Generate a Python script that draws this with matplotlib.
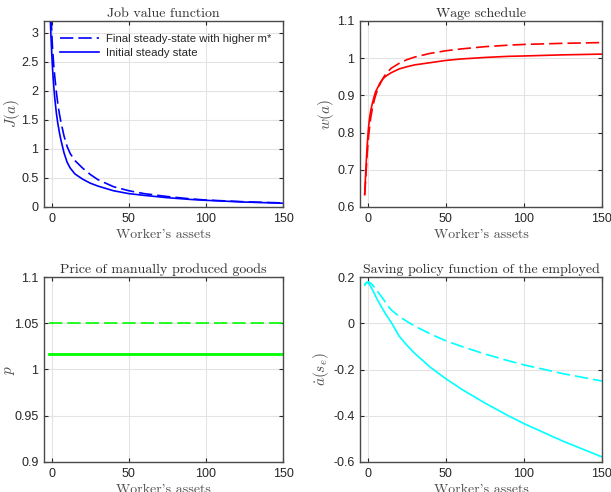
import numpy as np
import matplotlib
matplotlib.use("Agg")
import matplotlib.pyplot as plt
from matplotlib.ticker import FuncFormatter

plt.rcParams['mathtext.fontset'] = 'cm'
plt.rcParams['axes.unicode_minus'] = False

# ---------------- data ----------------
assets = [-2, -1.5, -1, -0.5, 0, 0.5, 1, 1.5, 2, 3, 4, 5, 6, 8, 10, 12, 15, 20, 25, 30,
          40, 50, 60, 75, 90, 100, 125, 150]

J_init = [4.2, 3.7, 3.3, 2.95, 2.65, 2.4, 2.2, 2.02, 1.87, 1.62, 1.43, 1.28, 1.15, 0.93, 0.77,
          0.67, 0.57, 0.48, 0.41, 0.36, 0.28, 0.23, 0.2, 0.16, 0.13, 0.115, 0.085, 0.065]
J_final = [4.6, 4.1, 3.7, 3.3, 3.0, 2.75, 2.55, 2.38, 2.24, 1.98, 1.77, 1.6, 1.46, 1.22, 1.04,
           0.92, 0.8, 0.67, 0.56, 0.47, 0.35, 0.28, 0.23, 0.18, 0.14, 0.12, 0.09, 0.07]

w_init = [0.633, 0.68, 0.72, 0.76, 0.79, 0.815, 0.835, 0.85, 0.862, 0.88, 0.896, 0.91, 0.918,
          0.935, 0.946, 0.953, 0.961, 0.971, 0.977, 0.982, 0.988, 0.994, 0.998, 1.002, 1.005,
          1.006, 1.009, 1.011]
w_final = [0.633, 0.665, 0.7, 0.735, 0.765, 0.79, 0.81, 0.828, 0.843, 0.866, 0.885, 0.9, 0.912,
           0.932, 0.948, 0.96, 0.973, 0.986, 0.996, 1.003, 1.013, 1.02, 1.025, 1.031, 1.035,
           1.037, 1.04, 1.042]

p_init = [1.017] * len(assets)
p_final = [1.05] * len(assets)

s_init = [0.165, 0.171, 0.175, 0.177, 0.176, 0.173, 0.168, 0.163, 0.157, 0.144, 0.131, 0.117,
          0.104, 0.079, 0.056, 0.034, 0.004, -0.055, -0.095, -0.13, -0.19, -0.24, -0.285,
          -0.345, -0.4, -0.434, -0.51, -0.578]
s_final = [0.165, 0.17, 0.174, 0.177, 0.178, 0.178, 0.177, 0.175, 0.172, 0.166, 0.158, 0.149,
           0.14, 0.122, 0.104, 0.082, 0.058, 0.03, 0.008, -0.012, -0.046, -0.076, -0.1,
           -0.133, -0.162, -0.18, -0.218, -0.25]

xticks = [0, 50, 100, 150]
legend_labels = ["Final steady-state with higher m*", "Initial steady state"]

# ---------------- figure ----------------
fig = plt.figure(figsize=(6.11, 4.92), dpi=100)
W, H = 611, 492

def box(l, t, r, b):
    return [l / W, 1 - b / H, (r - l) / W, (b - t) / H]

axes_rects = [box(44, 21, 283, 207), box(360, 21, 602, 207),
              box(44, 277, 283, 462), box(360, 277, 602, 462)]

gray = '#262626'
tfont = dict(family='cmr10', size=10, color='#303030')
lfont = dict(family='cmr10', size=10, color='#505050')
DASH = (0, (8, 3))

fmt = FuncFormatter(lambda v, p: ('%g' % round(v, 4)))

def style(ax, ylim, yticks, title, ylabel, ylab_x):
    ax.set_xlim(-5, 150)
    ax.set_ylim(*ylim)
    ax.set_xticks(xticks)
    ax.set_yticks(yticks)
    ax.yaxis.set_major_formatter(fmt)
    ax.grid(True, color='#e3e3e3', lw=0.8)
    ax.set_axisbelow(True)
    ax.tick_params(direction='in', length=3, top=True, right=True, colors=gray,
                   labelsize=9, width=0.8, pad=4)
    for lab in ax.get_xticklabels() + ax.get_yticklabels():
        lab.set_family('Liberation Sans')
    for s in ax.spines.values():
        s.set_color('#4a4a4a')
        s.set_linewidth(1.0)
    ax.set_title(title, pad=3, **tfont)
    ax.set_xlabel("Worker's assets", labelpad=3, **lfont)
    ax.set_ylabel(ylabel, fontsize=11, color='#505050')
    ax.yaxis.set_label_coords(ylab_x, 0.5)

ax1 = fig.add_axes(axes_rects[0])
ax1.plot(assets, J_final, color='#0000ff', lw=1.2, ls=DASH, label=legend_labels[0])
ax1.plot(assets, J_init, color='#0000ff', lw=1.2, label=legend_labels[1])
style(ax1, (0, 3.2), [0, 0.5, 1, 1.5, 2, 2.5, 3], 'Job value function', r'$J(a)$', -0.09)
leg = ax1.legend(loc='upper left', bbox_to_anchor=(0.035, 0.975), frameon=False,
                 prop={'family': 'Liberation Sans', 'size': 8.2}, handlelength=3.4,
                 handletextpad=0.6, labelspacing=0.35, borderaxespad=0.3)
for t in leg.get_texts():
    t.set_color(gray)

ax2 = fig.add_axes(axes_rects[1])
ax2.plot(assets, w_final, color='#ff0000', lw=1.2, ls=DASH)
ax2.plot(assets, w_init, color='#ff0000', lw=1.2)
style(ax2, (0.6, 1.1), [0.6, 0.7, 0.8, 0.9, 1.0, 1.1], 'Wage schedule', r'$w(a)$', -0.10)

ax3 = fig.add_axes(axes_rects[2])
ax3.plot(assets, p_final, color='#00ff00', lw=1.2, ls=DASH)
ax3.plot(assets, p_init, color='#00ff00', lw=2.0)
style(ax3, (0.9, 1.1), [0.9, 0.95, 1.0, 1.05, 1.1], 'Price of manually produced goods', r'$p$', -0.115)

ax4 = fig.add_axes(axes_rects[3])
ax4.plot(assets, s_final, color='#00ffff', lw=1.2, ls=DASH)
ax4.plot(assets, s_init, color='#00ffff', lw=1.2)
style(ax4, (-0.6, 0.2), [-0.6, -0.4, -0.2, 0, 0.2], 'Saving policy function of the employed',
      r'$\dot{a}(s_e)$', -0.12)

fig.savefig('out.png', dpi=100)
